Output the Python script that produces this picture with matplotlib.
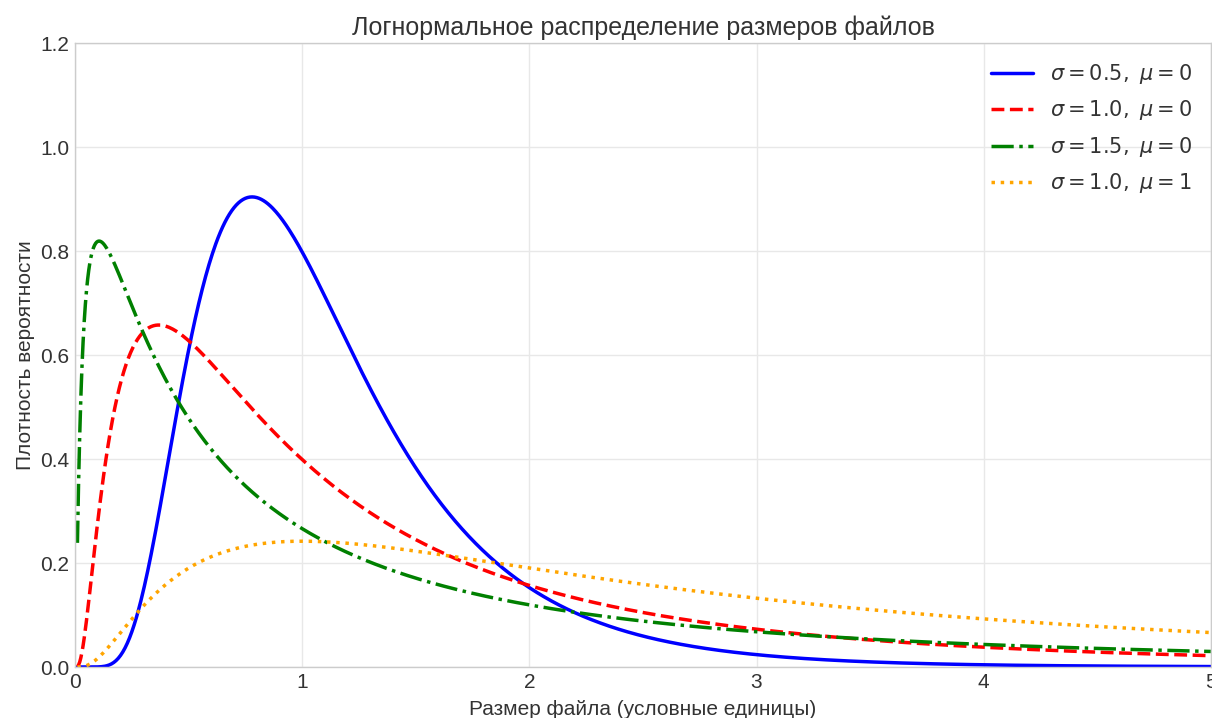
import numpy as np
import matplotlib
matplotlib.use('Agg')
import matplotlib.pyplot as plt

# lognormal parameters for each curve
sigmas = [0.5, 1.0, 1.5, 1.0]
mus = [0, 0, 0, 1]
colors = ['blue', 'red', 'green', 'orange']
styles = ['-', '--', '-.', ':']

x_ticks = [0, 1, 2, 3, 4, 5]
y_ticks = [0.0, 0.2, 0.4, 0.6, 0.8, 1.0, 1.2]

plt.style.use('seaborn-v0_8-whitegrid')
plt.rcParams['font.family'] = ['Liberation Sans', 'DejaVu Sans']
plt.rcParams['text.color'] = '#333333'
plt.rcParams['axes.labelcolor'] = '#333333'
plt.rcParams['xtick.color'] = '#333333'
plt.rcParams['ytick.color'] = '#333333'

x = np.linspace(0.01, 5, 1000)

fig = plt.figure(figsize=(12.12, 7.18), dpi=100)
ax = fig.add_axes([0.062, 0.071, 0.937, 0.869])

for s, m, c, ls in zip(sigmas, mus, colors, styles):
    pdf = np.exp(-(np.log(x) - m) ** 2 / (2 * s ** 2)) / (x * s * np.sqrt(2 * np.pi))
    ax.plot(x, pdf, color=c, linestyle=ls, linewidth=2.5,
            label=rf'$\sigma = {s}, \ \mu = {m}$')

ax.set_xlim(0, 5)
ax.set_ylim(0, 1.2)
ax.set_xticks(x_ticks)
ax.set_yticks(y_ticks)
ax.tick_params(labelsize=15, pad=4)
ax.grid(True, color='#e8e8e8', linewidth=1)
ax.set_xlabel('Размер файла (условные единицы)', fontsize=15, labelpad=6)
ax.set_ylabel('Плотность вероятности', fontsize=15, labelpad=4)
ax.set_title('Логнормальное распределение размеров файлов', fontsize=18, pad=6)
ax.legend(fontsize=15, labelspacing=0.6)
for sp in ax.spines.values():
    sp.set_color('#cccccc')

fig.savefig('out.png', dpi=100)
